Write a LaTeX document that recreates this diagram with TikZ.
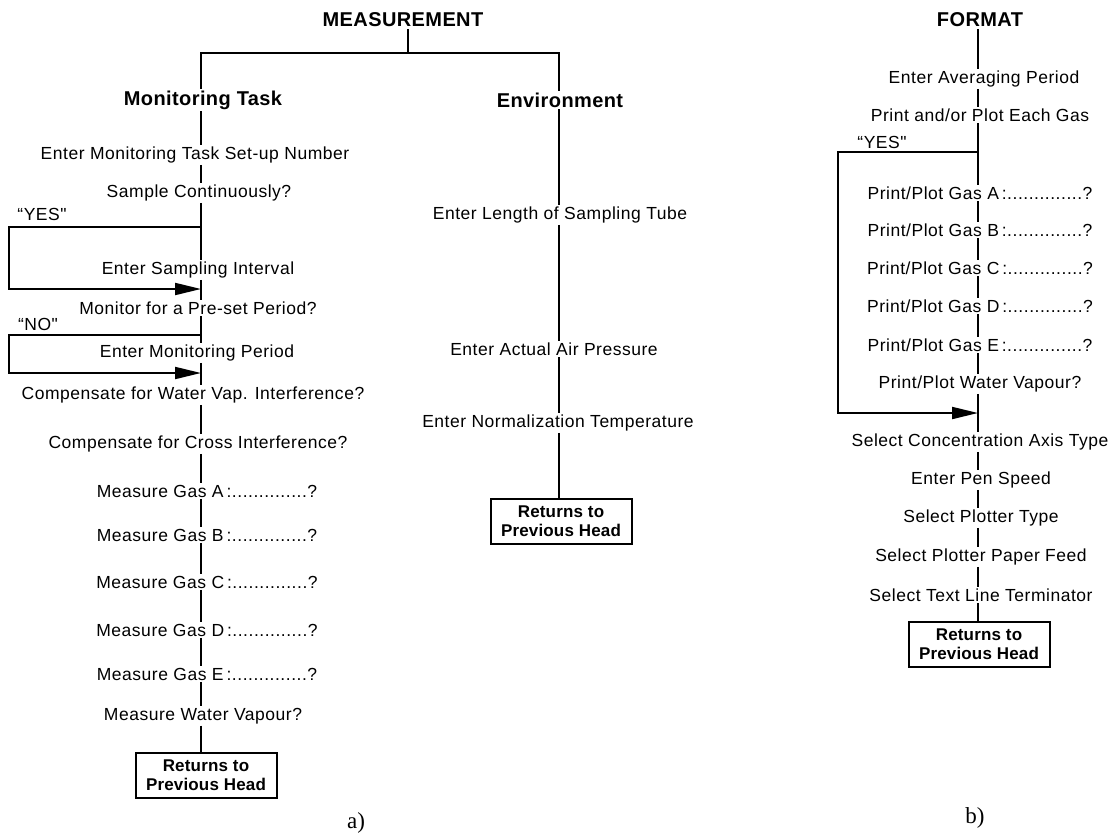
\documentclass[tikz,border=0pt]{standalone}
\usepackage{fontspec}
\usetikzlibrary{arrows.meta}
\newfontfamily\lab[LetterSpace=3]{Liberation Sans}
\newfontfamily\hdf[LetterSpace=2]{Liberation Sans}
\newfontfamily\bxf[LetterSpace=1]{Liberation Sans}
\newfontfamily\serf{Liberation Serif}
\tikzset{
  lbl/.style={font=\lab\fontsize{17.5}{20}\selectfont, inner sep=1.5pt},
  hd/.style={font=\hdf\bfseries\fontsize{20}{23}\selectfont, inner sep=1.5pt},
  retbox/.style={draw, line width=2pt, minimum width=141pt, minimum height=45pt, align=center, inner sep=1pt, font=\bxf\bfseries\fontsize{17}{19.5}\selectfont},
  ln/.style={line width=2pt},
  arr/.style={line width=2pt, -{Triangle[length=26pt,width=12pt]}},
  figlabel/.style={font=\serf\fontsize{23}{26}\selectfont, inner sep=0pt}
}
\begin{document}
\begin{tikzpicture}[x=1pt,y=-1pt]
\useasboundingbox (0,0) rectangle (1117,839);
% column axes
\coordinate (L) at (201,0);
\coordinate (M) at (559,0);
\coordinate (R) at (978,0);
% ---------- a) MEASUREMENT ----------
\node[hd] (meas) at (403,20) {MEASUREMENT};
\coordinate (tee) at (408,53);
\node[hd] (mt) at (203,100) {Monitoring Task};
\node[hd] (env) at (560,100) {Environment};
\draw[ln] (meas.south -| tee) -- (tee);
\draw[ln] (mt.north -| L) |- (tee) -| (env.north -| M);

\node[lbl] (l1) at (195,155) {Enter Monitoring Task Set-up Number};
\node[lbl] (l2) at (199,193) {Sample Continuously?};
\node[lbl] (yes1) at (42,214) {“YES"};
\node[lbl] (l3) at (198,270) {Enter Sampling Interval};
\node[lbl] (l4) at (198,308) {Monitor for a Pre-set Period?};
\node[lbl] (no1) at (38,324) {“NO"};
\node[lbl] (l5) at (197,353) {Enter Monitoring Period};
\node[lbl] (l6) at (193,395) {Compensate for Water Vap. Interference?};
\node[lbl] (l7) at (198,444) {Compensate for Cross Interference?};
\node[lbl] (l8) at (207,491) {Measure Gas A\,:..............?};
\node[lbl] (l9) at (207,535) {Measure Gas B\,:..............?};
\node[lbl] (l10) at (207,582) {Measure Gas C\,:..............?};
\node[lbl] (l11) at (207,630) {Measure Gas D\,:..............?};
\node[lbl] (l12) at (207,674) {Measure Gas E\,:..............?};
\node[lbl] (l13) at (203,716) {Measure Water Vapour?};
\node[retbox] (ra) at (206,775) {Returns to\\Previous Head};
\node[figlabel] (capa) at (356,823) {a)};

\foreach \a/\b in {mt/l1,l1/l2,l2/l3,l3/l4,l4/l5,l5/l6,l6/l7,l7/l8,l8/l9,l9/l10,l10/l11,l11/l12,l12/l13,l13/ra}
  \draw[ln] (\a.south -| L) -- (\b.north -| L);

\coordinate (y1s) at (201,227);
\coordinate (y1e) at (201,289);
\coordinate (y1c) at (9,227);
\draw[arr] (y1s) -- (y1c) |- (y1e);
\coordinate (n1s) at (201,335);
\coordinate (n1e) at (201,373);
\coordinate (n1c) at (9,335);
\draw[arr] (n1s) -- (n1c) |- (n1e);

% Environment column
\node[lbl] (m1) at (560,215) {Enter Length of Sampling Tube};
\node[lbl] (m2) at (554,349) {Enter Actual Air Pressure};
\node[lbl] (m3) at (558,423) {Enter Normalization Temperature};
\node[retbox] (rm) at (561,521) {Returns to\\Previous Head};
\foreach \a/\b in {env/m1,m1/m2,m2/m3,m3/rm}
  \draw[ln] (\a.south -| M) -- (\b.north -| M);

% ---------- b) FORMAT ----------
\node[hd] (fmt) at (980,20) {FORMAT};
\node[lbl] (f1) at (984,79) {Enter Averaging Period};
\node[lbl] (f2) at (980,115) {Print and/or Plot Each Gas};
\node[lbl] (yes2) at (882,142) {“YES"};
\node[lbl] (f3) at (980,193) {Print/Plot Gas A\,:..............?};
\node[lbl] (f4) at (980,230) {Print/Plot Gas B\,:..............?};
\node[lbl] (f5) at (980,268) {Print/Plot Gas C\,:..............?};
\node[lbl] (f6) at (980,306) {Print/Plot Gas D\,:..............?};
\node[lbl] (f7) at (980,345) {Print/Plot Gas E\,:..............?};
\node[lbl] (f8) at (980,384) {Print/Plot Water Vapour?};
\node[lbl] (f9) at (980,442) {Select Concentration Axis Type};
\node[lbl] (f10) at (981,480) {Enter Pen Speed};
\node[lbl] (f11) at (981,518) {Select Plotter Type};
\node[lbl] (f12) at (981,557) {Select Plotter Paper Feed};
\node[lbl] (f13) at (981,595) {Select Text Line Terminator};
\node[retbox] (rf) at (979,644) {Returns to\\Previous Head};
\node[figlabel] (capb) at (975,818) {b)};

\foreach \a/\b in {fmt/f1,f1/f2,f2/f3,f3/f4,f4/f5,f5/f6,f6/f7,f7/f8,f8/f9,f9/f10,f10/f11,f11/f12,f12/f13,f13/rf}
  \draw[ln] (\a.south -| R) -- (\b.north -| R);

\coordinate (y2s) at (978,152);
\coordinate (y2e) at (978,413);
\coordinate (y2c) at (838,152);
\draw[arr] (y2s) -- (y2c) |- (y2e);
\end{tikzpicture}
\end{document}
